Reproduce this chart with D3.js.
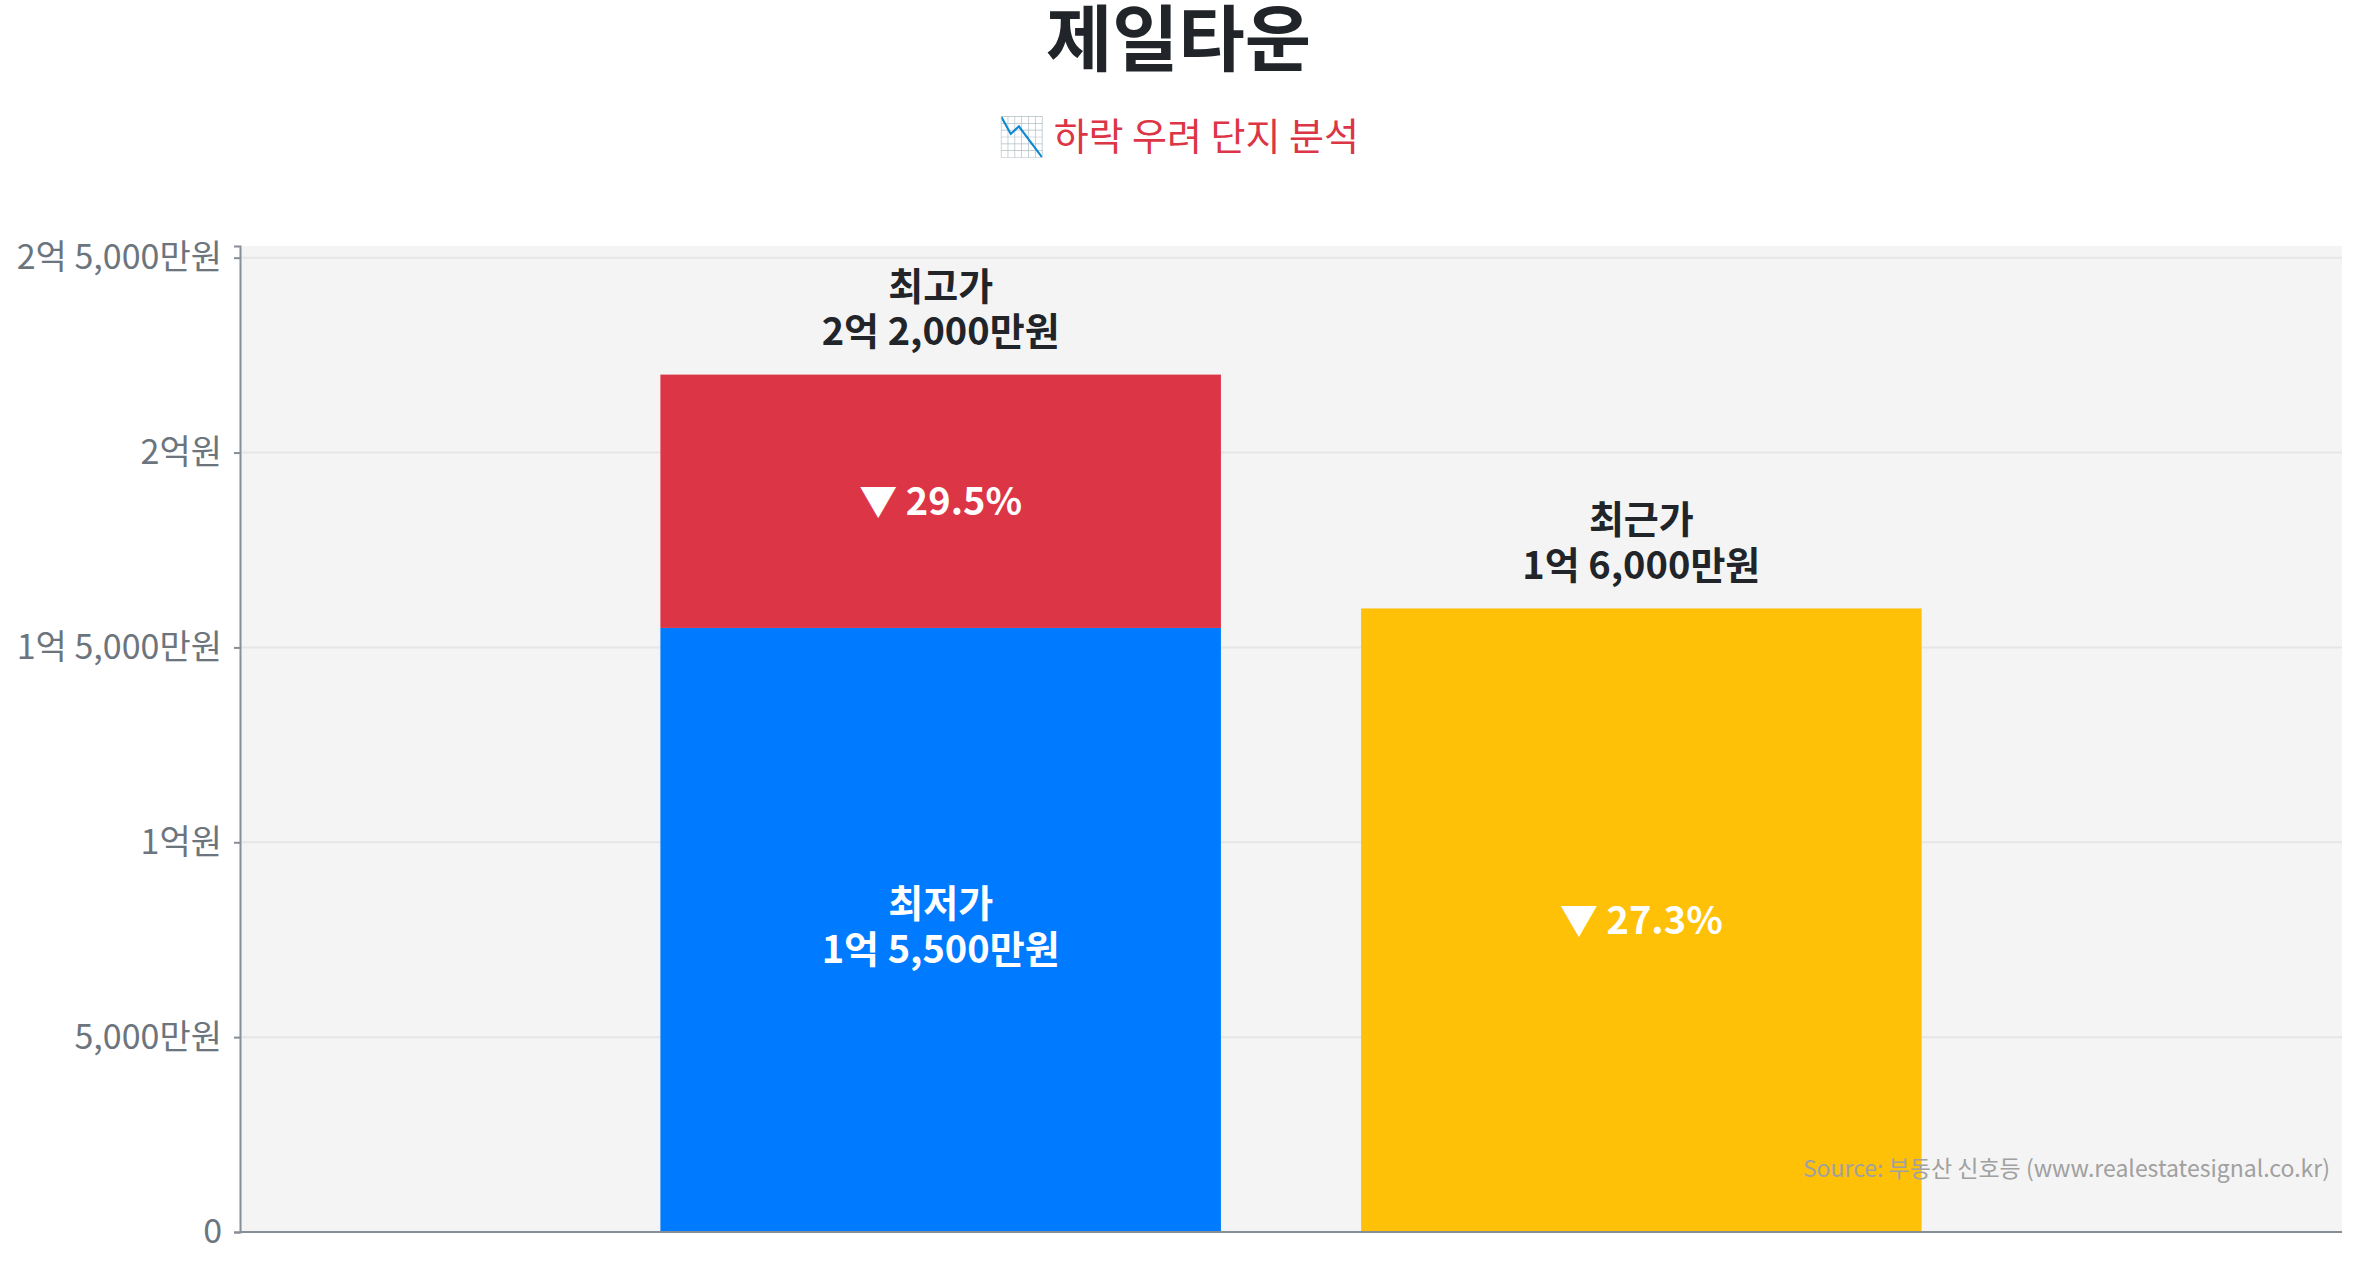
<!DOCTYPE html>
<html>
<head>
<meta charset="utf-8">
<script src="https://cdn.jsdelivr.net/npm/d3@7"></script>
<style>
  body { margin: 0; background: #fff; }
  svg { display: block; font-family: "Noto Sans CJK KR", "Noto Sans", sans-serif; }
</style>
</head>
<body>
<svg id="chart"></svg>
<script>
// Data (만원 단위)
const categories = ["최저·최고가", "최근가"];
const lowPrice = 15500;
const highPrice = 22000;
const recentPrice = 16000;
const yTicks = [0, 5000, 10000, 15000, 20000, 25000];
const yTickLabels = ["0", "5,000만원", "1억원", "1억 5,000만원", "2억원", "2억 5,000만원"];

const width = 2357;
const height = 1268;
const margin = { top: 246, right: 15, bottom: 36, left: 240 };
const plotW = width - margin.left - margin.right;
const plotH = height - margin.top - margin.bottom;

const colors = { low: "#007bff", high: "#dc3545", recent: "#ffc107" };

// 억/만원 format
function fmtWon(v) {
    const eok = Math.floor(v / 10000);
    const man = v % 10000;
    if (eok > 0 && man > 0) return `${eok}억 ${d3.format(",")(man)}만원`;
    if (eok > 0) return `${eok}억원`;
    return `${d3.format(",")(man)}만원`;
}

const svg = d3.select("#chart")
    .attr("width", width)
    .attr("height", height);

// Title
svg.append("text")
    .attr("x", width / 2)
    .attr("y", 39)
    .attr("dy", "0.36em")
    .style("text-anchor", "middle")
    .style("font-size", "72px")
    .style("font-weight", "bold")
    .style("fill", "#212529")
    .text("제일타운");

svg.append("text")
    .attr("x", width / 2)
    .attr("y", 137)
    .attr("dy", "0.35em")
    .style("text-anchor", "middle")
    .style("font-size", "38px")
    .style("fill", "#dc3545")
    .text("📉 하락 우려 단지 분석");

const g = svg.append("g")
    .attr("transform", `translate(${margin.left}, ${margin.top})`);

// Scales
const xScale = d3.scaleBand()
    .domain(categories)
    .range([plotW / 6, plotW * 5 / 6])
    .paddingInner(0.2)
    .paddingOuter(0.1);

const yScale = d3.scaleLinear()
    .domain([0, highPrice * 1.15])
    .range([plotH, 0]);

// Plot background
g.append("rect")
    .attr("width", plotW)
    .attr("height", plotH)
    .attr("fill", "#f4f4f4");

// Grid
g.selectAll(".grid")
    .data(yTicks.slice(1))
    .enter()
    .append("line")
    .attr("x1", 0)
    .attr("x2", plotW)
    .attr("y1", d => yScale(d))
    .attr("y2", d => yScale(d))
    .attr("stroke", "#e6e6e6")
    .attr("stroke-width", 2);

// Bars
const bars = [
    { cat: categories[0], y0: 0, y1: lowPrice, color: colors.low },
    { cat: categories[0], y0: lowPrice, y1: highPrice, color: colors.high },
    { cat: categories[1], y0: 0, y1: recentPrice, color: colors.recent }
];

g.selectAll(".bar")
    .data(bars)
    .enter()
    .append("rect")
    .attr("class", "bar")
    .attr("x", d => xScale(d.cat))
    .attr("width", xScale.bandwidth())
    .attr("y", d => yScale(d.y1))
    .attr("height", d => yScale(d.y0) - yScale(d.y1))
    .attr("fill", d => d.color);

// Labels
function twoLine(x, y, lines, color) {
    const t = g.append("text")
        .attr("x", x)
        .attr("y", y)
        .style("text-anchor", "middle")
        .style("font-size", "38px")
        .style("font-weight", "bold")
        .style("fill", color);
    lines.forEach((s, i) => {
        t.append("tspan")
            .attr("x", x)
            .attr("dy", i === 0 ? "0" : "1.2em")
            .text(s);
    });
}

const cx0 = xScale(categories[0]) + xScale.bandwidth() / 2;
const cx1 = xScale(categories[1]) + xScale.bandwidth() / 2;

twoLine(cx0, yScale(highPrice) - 75, ["최고가", fmtWon(highPrice)], "#212529");
twoLine(cx1, yScale(recentPrice) - 75, ["최근가", fmtWon(recentPrice)], "#212529");
twoLine(cx0, (yScale(0) + yScale(lowPrice)) / 2 - 13, ["최저가", fmtWon(lowPrice)], "#fff");

const dropHigh = (highPrice - lowPrice) / highPrice * 100;
const dropRecent = (highPrice - recentPrice) / highPrice * 100;

g.append("text")
    .attr("x", cx0)
    .attr("y", (yScale(lowPrice) + yScale(highPrice)) / 2)
    .attr("dy", "0.35em")
    .style("text-anchor", "middle")
    .style("font-size", "38px")
    .style("font-weight", "bold")
    .style("fill", "#fff")
    .text(`▼ ${dropHigh.toFixed(1)}%`);

g.append("text")
    .attr("x", cx1)
    .attr("y", (yScale(0) + yScale(recentPrice)) / 2)
    .attr("dy", "0.35em")
    .style("text-anchor", "middle")
    .style("font-size", "38px")
    .style("font-weight", "bold")
    .style("fill", "#fff")
    .text(`▼ ${dropRecent.toFixed(1)}%`);

// Y-Axis
const yAxis = d3.axisLeft(yScale)
    .tickValues(yTicks)
    .tickSize(6)
    .tickPadding(12)
    .tickFormat((d, i) => yTickLabels[i]);

const yG = g.append("g").call(yAxis);
yG.select(".domain").attr("stroke", "#868e96").attr("stroke-width", 2);
yG.selectAll(".tick line").attr("stroke", "#868e96").attr("stroke-width", 2);
yG.selectAll(".tick text")
    .style("font-size", "34px")
    .style("font-family", "'Noto Sans CJK KR', sans-serif")
    .style("fill", "#6c757d");

// X-Axis line
g.append("line")
    .attr("x1", 0)
    .attr("x2", plotW)
    .attr("y1", plotH)
    .attr("y2", plotH)
    .attr("stroke", "#868e96")
    .attr("stroke-width", 2);

// Source
g.append("text")
    .attr("x", plotW - 12)
    .attr("y", yScale(0) - 63)
    .attr("dy", "0.35em")
    .style("text-anchor", "end")
    .style("font-size", "23px")
    .style("fill", "#a0a0a0")
    .text("Source: 부동산 신호등 (www.realestatesignal.co.kr)");
</script>
</body>
</html>
